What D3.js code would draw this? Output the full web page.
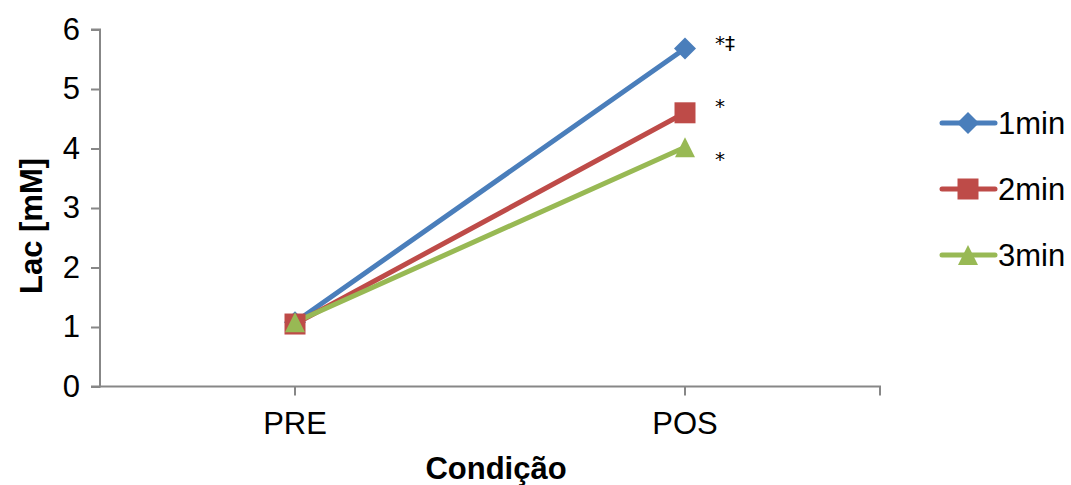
<!DOCTYPE html>
<html>
<head>
<meta charset="utf-8">
<script src="https://cdn.jsdelivr.net/npm/d3@7"></script>
<style>
  html, body { margin: 0; padding: 0; background: #fff; }
  svg { display: block; font-family: "Liberation Sans", Arial, sans-serif; }
</style>
</head>
<body>
<svg id="chart" width="1071" height="485"></svg>
<script>
const categories = ["PRE", "POS"];
const seriesNames = ["1min", "2min", "3min"];
const values1min = [1.08, 5.68];
const values2min = [1.05, 4.60];
const values3min = [1.08, 4.02];
const yTicks = [0, 1, 2, 3, 4, 5, 6];
const annotations = ["*‡", "*", "*"];

const colors = ["#4A7EBB", "#BE4B48", "#98B954"];
const allValues = [values1min, values2min, values3min];

// custom marker shapes (Excel-like)
const markerPaths = [
  "M0,-11L11,0L0,11L-11,0Z",          // diamond
  "M-10.5,-10.5H10.5V10.5H-10.5Z",    // square
  "M0,-10L10,10H-10Z"                 // triangle
];

const svg = d3.select("#chart");
const margin = { left: 100, right: 191, top: 29.5, bottom: 98.5 };
const W = 1071, H = 485;

const x = d3.scaleBand().domain(categories).range([margin.left, W - margin.right]);
const y = d3.scaleLinear().domain([0, 6]).range([H - margin.bottom, margin.top]);
const cx = c => x(c) + x.bandwidth() / 2;

const axisColor = "#878787";
const fs = 31;

// Y axis
const yAxis = svg.append("g")
  .attr("transform", `translate(${margin.left},0)`)
  .call(d3.axisLeft(y).tickValues(yTicks).tickSize(9).tickPadding(11).tickFormat(d3.format("d")));
yAxis.select(".domain").attr("stroke", axisColor).attr("stroke-width", 2).attr("d", `M-9,${y(6)}H0V${y(0)}H-9`);
yAxis.selectAll(".tick line").attr("stroke", axisColor).attr("stroke-width", 2);
yAxis.selectAll(".tick text").attr("font-size", fs).attr("fill", "#000")
  .attr("font-family", "Liberation Sans, Arial, sans-serif");

// X axis
const xAxis = svg.append("g")
  .attr("transform", `translate(0,${y(0)})`)
  .call(d3.axisBottom(x).tickSize(9).tickPadding(16));
xAxis.select(".domain").attr("stroke", axisColor).attr("stroke-width", 2)
  .attr("d", `M${margin.left},0H${W - margin.right}V9`);
xAxis.selectAll(".tick line").attr("stroke", axisColor).attr("stroke-width", 2);
xAxis.selectAll(".tick text").attr("font-size", fs).attr("fill", "#000")
  .attr("font-family", "Liberation Sans, Arial, sans-serif");

// Axis titles
svg.append("text")
  .attr("transform", `translate(42,226) rotate(-90)`)
  .attr("text-anchor", "middle")
  .attr("font-size", fs).attr("font-weight", "bold")
  .text("Lac [mM]");
svg.append("text")
  .attr("x", 496).attr("y", 479)
  .attr("text-anchor", "middle")
  .attr("font-size", fs).attr("font-weight", "bold")
  .text("Condição");

// Series
const line = d3.line().x((d, i) => cx(categories[i])).y(d => y(d));
allValues.forEach((vals, s) => {
  svg.append("path")
    .datum(vals)
    .attr("d", line)
    .attr("fill", "none")
    .attr("stroke", colors[s])
    .attr("stroke-width", 5)
    .attr("stroke-linecap", "round");
});
allValues.forEach((vals, s) => {
  svg.selectAll(null).data(vals).enter().append("path")
    .attr("d", markerPaths[s])
    .attr("transform", (d, i) => `translate(${cx(categories[i])},${y(d)})`)
    .attr("fill", colors[s]);
});

// Significance annotations
allValues.forEach((vals, s) => {
  svg.append("text")
    .attr("x", cx("POS") + 30)
    .attr("y", y(vals[1]) + (s === 0 ? 1 : (s === 1 ? 0 : 19)))
    .attr("font-size", 20)
    .attr("font-family", "DejaVu Sans, sans-serif")
    .text(annotations[s]);
});

// Legend
const legendY = [123, 189, 255];
seriesNames.forEach((name, s) => {
  const g = svg.append("g").attr("transform", `translate(0,${legendY[s]})`);
  g.append("line").attr("x1", 942).attr("x2", 995).attr("y1", 0).attr("y2", 0)
    .attr("stroke", colors[s]).attr("stroke-width", 5).attr("stroke-linecap", "round");
  g.append("path")
    .attr("d", markerPaths[s])
    .attr("transform", `translate(968,0)`)
    .attr("fill", colors[s]);
  g.append("text").attr("x", 998).attr("y", 0).attr("dy", "0.36em")
    .attr("font-size", fs).text(name);
});
</script>
</body>
</html>
